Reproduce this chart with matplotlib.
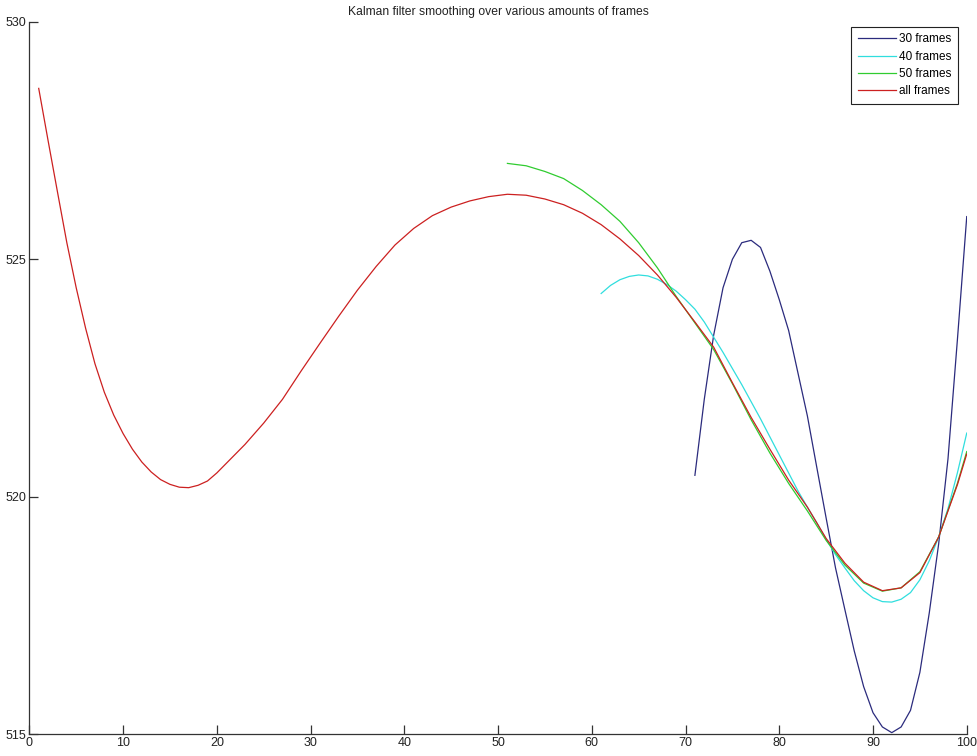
import matplotlib
matplotlib.use("Agg")
import matplotlib.pyplot as plt

plt.rcParams['font.family'] = ['Liberation Sans', 'DejaVu Sans']

# frame index and smoothed position
x_all = [1, 2, 3, 4, 5, 6, 7, 8, 9, 10, 11, 12, 13, 14, 15, 16, 17, 18, 19, 20,
         21, 22, 23, 25, 27, 29, 31, 33, 35, 37, 39,
         41, 43, 45, 47, 49, 51, 53, 55, 57, 59, 61, 63, 65, 67, 69, 71, 73, 75, 77, 79,
         81, 83, 85, 87, 89, 91, 93, 95, 97, 99, 100]
y_all = [528.6, 527.5, 526.42, 525.35, 524.4, 523.55, 522.8, 522.2, 521.72, 521.33,
         521.0, 520.73, 520.52, 520.36, 520.26, 520.2, 520.19, 520.24, 520.33, 520.5,
         520.7, 520.9, 521.1, 521.55, 522.05, 522.65, 523.23, 523.8, 524.35, 524.85, 525.3,
         525.65, 525.92, 526.1, 526.23, 526.32, 526.37, 526.35, 526.27, 526.15, 525.97,
         525.73, 525.43, 525.08, 524.67, 524.2, 523.68, 523.15, 522.4, 521.67, 521.0,
         520.35, 519.78, 519.12, 518.6, 518.2, 518.02, 518.08, 518.4, 519.15, 520.25, 520.9]

x_50 = [51, 53, 55, 57, 59, 61, 63, 65, 67, 69, 71, 73, 75, 77, 79, 81, 83, 85, 87,
        89, 91, 93, 95, 97, 99, 100]
y_50 = [527.02, 526.97, 526.85, 526.7, 526.45, 526.15, 525.8, 525.35, 524.82, 524.22,
        523.66, 523.1, 522.38, 521.62, 520.92, 520.28, 519.7, 519.08, 518.56, 518.18,
        518.01, 518.08, 518.42, 519.15, 520.28, 520.95]

x_40 = list(range(61, 101))
y_40 = [524.28, 524.45, 524.57, 524.64, 524.67, 524.65, 524.58, 524.47, 524.33, 524.15,
        523.95, 523.68, 523.36, 523.04, 522.7, 522.36, 522.0, 521.64, 521.26, 520.88,
        520.5, 520.12, 519.78, 519.45, 519.1, 518.78, 518.5, 518.23, 518.02, 517.87,
        517.79, 517.78, 517.84, 517.98, 518.25, 518.65, 519.15, 519.75, 520.5, 521.34]

x_30 = list(range(71, 101))
y_30 = [520.45, 522.05, 523.4, 524.4, 525.0, 525.35, 525.4, 525.25, 524.75, 524.15,
        523.5, 522.6, 521.7, 520.62, 519.55, 518.5, 517.62, 516.75, 516.0, 515.45,
        515.15, 515.03, 515.15, 515.5, 516.3, 517.55, 519.0, 520.8, 523.3, 525.9]

labels = ['30 frames', '40 frames', '50 frames', 'all frames']
colors = ['#2b2b7d', '#30dede', '#30cc30', '#cc2020']

fig = plt.figure(figsize=(9.78, 7.56), dpi=100)
ax = fig.add_axes([0.030, 0.029, 0.9585, 0.942])

ax.plot(x_30, y_30, color=colors[0], lw=0.9, label=labels[0])
ax.plot(x_40, y_40, color=colors[1], lw=0.9, label=labels[1])
ax.plot(x_50, y_50, color=colors[2], lw=0.9, label=labels[2])
ax.plot(x_all, y_all, color=colors[3], lw=0.9, label=labels[3])

ax.set_xlim(0, 100)
ax.set_ylim(515, 530)
ax.set_xticks(range(0, 101, 10))
ax.set_yticks([515, 520, 525, 530])
ax.spines['top'].set_visible(False)
ax.spines['right'].set_visible(False)
for s in ('left', 'bottom'):
    ax.spines[s].set_linewidth(0.9)
    ax.spines[s].set_color('#333333')
ax.tick_params(direction='in', length=6.5, width=0.9, color='#333333',
               labelsize=9, labelcolor='#222222', pad=2)

ax.set_title('Kalman filter smoothing over various amounts of frames',
             fontsize=8.7, color='#222222', pad=5)

leg = ax.legend(loc='upper right', bbox_to_anchor=(958 / 978, 1 - 27 / 756),
                bbox_transform=fig.transFigure, borderaxespad=0, fontsize=8.5,
                fancybox=False, framealpha=1, edgecolor='#222222',
                handlelength=3.2, handletextpad=0.3, labelspacing=0.45,
                borderpad=0.55)
leg.get_frame().set_linewidth(0.8)

fig.savefig('out.png', dpi=100)
